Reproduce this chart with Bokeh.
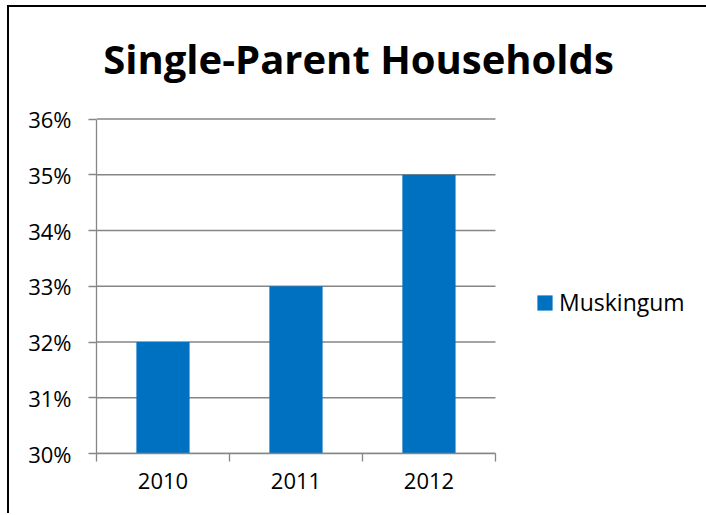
from bokeh.plotting import figure
from bokeh.models import (ColumnDataSource, Range1d, FixedTicker, NumeralTickFormatter,
                          Legend, LegendItem, Label)
from bokeh.embed import file_html
from bokeh.resources import INLINE

# data
title_text = "Single-Parent Households"
years = ["2010", "2011", "2012"]
share = [0.32, 0.33, 0.35]
series_name = "Muskingum"
y_ticks = [0.30, 0.31, 0.32, 0.33, 0.34, 0.35, 0.36]

BAR_COLOR = "#0070C0"
GRID_COLOR = "#868686"
FONT = "Open Sans"

n = len(years)
positions = [i + 0.5 for i in range(n)]
source = ColumnDataSource(data={"x": positions, "top": share, "year": years})
grid_source = ColumnDataSource(data={"y": y_ticks, "x0": [0] * len(y_ticks), "x1": [n] * len(y_ticks)})

# the frame runs past the axes (right and top) so title and legend sit inside it
p = figure(
    width=699,
    height=508,
    x_range=Range1d(0, n * 1.534),
    y_range=Range1d(y_ticks[0], 0.38),
    output_backend="svg",
    toolbar_location=None,
    title_location=None,
    min_border_left=87,
    min_border_right=0,
    min_border_top=0,
    min_border_bottom=62,
)
p.styles = {"border-left": "2px solid black", "border-top": "2px solid black",
            "margin-left": "7px", "margin-top": "5px"}

p.outline_line_color = None
p.xgrid.grid_line_color = None
p.ygrid.grid_line_color = None

# horizontal gridlines, stopping at the end of the category axis
p.segment(x0="x0", x1="x1", y0="y", y1="y", source=grid_source,
          line_color=GRID_COLOR, line_width=1.3)

bars = p.vbar(x="x", top="top", bottom=y_ticks[0], width=0.4, source=source,
              fill_color=BAR_COLOR, line_color=None)

p.add_layout(Label(x=1.97, y=0.3708, text=title_text, text_align="center",
                   text_baseline="alphabetic", text_font=FONT, text_font_style="bold",
                   text_font_size="40px", text_color="black"))

# y axis
p.yaxis.bounds = (y_ticks[0], y_ticks[-1])
p.yaxis.ticker = FixedTicker(ticks=y_ticks, minor_ticks=[])
p.yaxis.formatter = NumeralTickFormatter(format="0%")
p.yaxis.axis_line_color = GRID_COLOR
p.yaxis.axis_line_width = 1.3
p.yaxis.major_tick_line_color = GRID_COLOR
p.yaxis.major_tick_line_width = 1.3
p.yaxis.major_tick_out = 8
p.yaxis.major_tick_in = 0
p.yaxis.major_label_standoff = 17
p.yaxis.major_label_text_font = FONT
p.yaxis.major_label_text_font_size = "22px"
p.yaxis.major_label_text_color = "black"

# x axis: labels centred on bars, ticks on the category boundaries
p.xaxis.bounds = (0, n)
p.xaxis.ticker = FixedTicker(ticks=positions, minor_ticks=list(range(n + 1)))
p.xaxis.major_label_overrides = {pos: yr for pos, yr in zip(positions, years)}
p.xaxis.axis_line_color = GRID_COLOR
p.xaxis.axis_line_width = 1.3
p.xaxis.major_tick_line_color = None
p.xaxis.minor_tick_line_color = GRID_COLOR
p.xaxis.minor_tick_line_width = 1.3
p.xaxis.minor_tick_out = 8
p.xaxis.minor_tick_in = 0
p.xaxis.major_label_standoff = 11
p.xaxis.major_label_text_font = FONT
p.xaxis.major_label_text_font_size = "22px"
p.xaxis.major_label_text_color = "black"

legend = Legend(items=[LegendItem(label=series_name, renderers=[bars])],
                location=(439, 135))
legend.glyph_width = 19
legend.glyph_height = 19
legend.label_standoff = 5
legend.label_text_font = FONT
legend.label_text_font_size = "23px"
legend.label_text_color = "black"
legend.padding = 0
legend.margin = 0
legend.border_line_color = None
legend.background_fill_alpha = 0
p.add_layout(legend, "center")

open("out.html", "w").write(file_html(p, INLINE))
